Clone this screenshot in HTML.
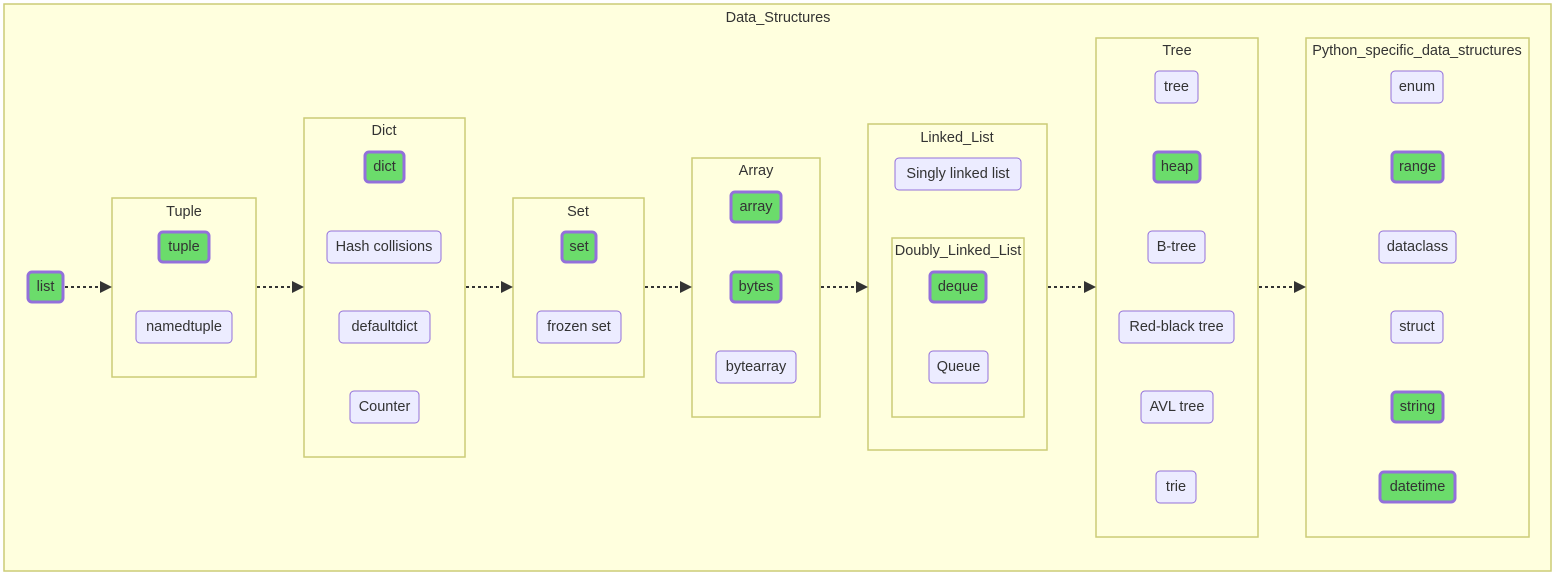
<!DOCTYPE html>
<html><head><meta charset="utf-8"><style>
html,body{margin:0;padding:0;background:#fff;}
svg{display:block;}
text{font-family:"Liberation Sans",sans-serif;font-size:14.5px;fill:#333;text-anchor:middle;dominant-baseline:central;}
.c{fill:#ffffde;stroke:#cccc77;stroke-width:1.5;}
.n{fill:#ececff;stroke:#9370db;stroke-width:1;}
.g{fill:#6bdc6b;stroke:#9370db;stroke-width:3;}
.e{stroke:#333;stroke-width:2;stroke-dasharray:3,3;fill:none;}
</style></head><body>
<svg width="1556" height="574" viewBox="0 0 1556 574">
<defs><marker id="a" viewBox="0 0 12 12" refX="12" refY="6" markerWidth="12" markerHeight="12" markerUnits="userSpaceOnUse" orient="auto"><path d="M0,0L12,6L0,12z" fill="#333"/></marker></defs>
<rect class="c" x="4" y="4" width="1547" height="567"/>
<text x="778" y="18">Data_Structures</text>

<rect class="c" x="112" y="198" width="144" height="179"/><text x="184" y="212">Tuple</text>
<rect class="c" x="304" y="118" width="161" height="339"/><text x="384" y="131">Dict</text>
<rect class="c" x="513" y="198" width="131" height="179"/><text x="578" y="212">Set</text>
<rect class="c" x="692" y="158" width="128" height="259"/><text x="756" y="171">Array</text>
<rect class="c" x="868" y="124" width="179" height="326"/><text x="957" y="138">Linked_List</text>
<rect class="c" x="892" y="238" width="132" height="179"/><text x="958" y="251">Doubly_Linked_List</text>
<rect class="c" x="1096" y="38" width="162" height="499"/><text x="1177" y="51">Tree</text>
<rect class="c" x="1306" y="38" width="223" height="499"/><text x="1417" y="51">Python_specific_data_structures</text>

<g>
<line class="e" x1="65" y1="287" x2="112" y2="287" marker-end="url(#a)"/>
<line class="e" x1="257" y1="287" x2="304" y2="287" marker-end="url(#a)"/>
<line class="e" x1="466" y1="287" x2="513" y2="287" marker-end="url(#a)"/>
<line class="e" x1="645" y1="287" x2="692" y2="287" marker-end="url(#a)"/>
<line class="e" x1="821" y1="287" x2="868" y2="287" marker-end="url(#a)"/>
<line class="e" x1="1048" y1="287" x2="1096" y2="287" marker-end="url(#a)"/>
<line class="e" x1="1259" y1="287" x2="1306" y2="287" marker-end="url(#a)"/>
</g>

<rect class="g" x="28" y="272" width="35" height="30" rx="4"/><text x="45.5" y="287">list</text>
<rect class="g" x="159" y="232" width="50" height="30" rx="4"/><text x="184" y="247">tuple</text>
<rect class="n" x="136" y="311" width="96" height="32" rx="4"/><text x="184" y="327">namedtuple</text>

<rect class="g" x="365" y="152" width="39" height="30" rx="4"/><text x="384.5" y="167">dict</text>
<rect class="n" x="327" y="231" width="114" height="32" rx="4"/><text x="384" y="247">Hash collisions</text>
<rect class="n" x="339" y="311" width="91" height="32" rx="4"/><text x="384.5" y="327">defaultdict</text>
<rect class="n" x="350" y="391" width="69" height="32" rx="4"/><text x="384.5" y="407">Counter</text>

<rect class="g" x="562" y="232" width="34" height="30" rx="4"/><text x="579" y="247">set</text>
<rect class="n" x="537" y="311" width="84" height="32" rx="4"/><text x="579" y="327">frozen set</text>

<rect class="g" x="731" y="192" width="50" height="30" rx="4"/><text x="756" y="207">array</text>
<rect class="g" x="731" y="272" width="50" height="30" rx="4"/><text x="756" y="287">bytes</text>
<rect class="n" x="716" y="351" width="80" height="32" rx="4"/><text x="756" y="367">bytearray</text>

<rect class="n" x="895" y="158" width="126" height="32" rx="4"/><text x="958" y="174">Singly linked list</text>
<rect class="g" x="930" y="272" width="56" height="30" rx="4"/><text x="958" y="287">deque</text>
<rect class="n" x="929" y="351" width="59" height="32" rx="4"/><text x="958.5" y="367">Queue</text>

<rect class="n" x="1155" y="71" width="43" height="32" rx="4"/><text x="1176.5" y="87">tree</text>
<rect class="g" x="1154" y="152" width="46" height="30" rx="4"/><text x="1177" y="167">heap</text>
<rect class="n" x="1148" y="231" width="57" height="32" rx="4"/><text x="1176.5" y="247">B-tree</text>
<rect class="n" x="1119" y="311" width="115" height="32" rx="4"/><text x="1176.5" y="327">Red-black tree</text>
<rect class="n" x="1141" y="391" width="72" height="32" rx="4"/><text x="1177" y="407">AVL tree</text>
<rect class="n" x="1156" y="471" width="40" height="32" rx="4"/><text x="1176" y="487">trie</text>

<rect class="n" x="1391" y="71" width="52" height="32" rx="4"/><text x="1417" y="87">enum</text>
<rect class="g" x="1392" y="152" width="51" height="30" rx="4"/><text x="1417.5" y="167">range</text>
<rect class="n" x="1379" y="231" width="77" height="32" rx="4"/><text x="1417.5" y="247">dataclass</text>
<rect class="n" x="1391" y="311" width="52" height="32" rx="4"/><text x="1417" y="327">struct</text>
<rect class="g" x="1392" y="392" width="51" height="30" rx="4"/><text x="1417.5" y="407">string</text>
<rect class="g" x="1380" y="472" width="75" height="30" rx="4"/><text x="1417.5" y="487">datetime</text>
</svg>
</body></html>
